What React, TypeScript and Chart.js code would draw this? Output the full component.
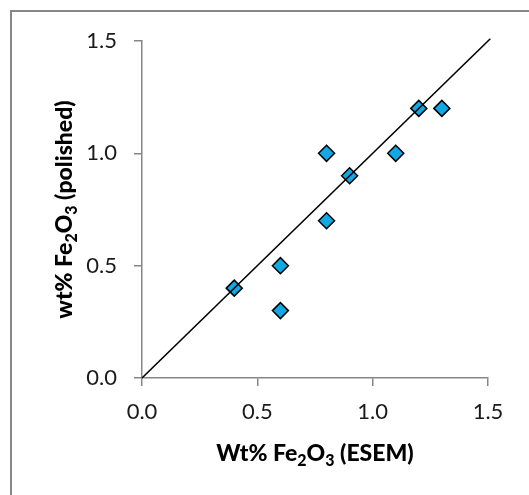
import React, { useEffect, useRef } from "react";
import { Chart, registerables } from "chart.js";

Chart.register(...registerables);

const esemValues = [0.4, 0.6, 0.6, 0.8, 0.8, 0.9, 1.1, 1.2, 1.3];
const polishedValues = [0.4, 0.5, 0.3, 1.0, 0.7, 0.9, 1.0, 1.2, 1.2];
const lineX = [0, 1.51];
const lineY = [0, 1.51];
const tickValues = [0, 0.5, 1.0, 1.5];

const xTitleParts = [
  { t: "Wt% Fe", sub: false },
  { t: "2", sub: true },
  { t: "O", sub: false },
  { t: "3", sub: true },
  { t: " (ESEM)", sub: false },
];
const yTitleParts = [
  { t: "wt% Fe", sub: false },
  { t: "2", sub: true },
  { t: "O", sub: false },
  { t: "3", sub: true },
  { t: " (polished)", sub: false },
];

const FONT = "Lato, 'Open Sans', sans-serif";
const TITLE_SIZE = 23;
const SUB_SIZE = 16;
const SUB_OFFSET = 5;

function drawParts(ctx: CanvasRenderingContext2D, parts: { t: string; sub: boolean }[]) {
  const main = `900 ${TITLE_SIZE}px ${FONT}`;
  const sub = `900 ${SUB_SIZE}px ${FONT}`;
  let total = 0;
  const widths = parts.map((p) => {
    ctx.font = p.sub ? sub : main;
    const w = ctx.measureText(p.t).width;
    total += w;
    return w;
  });
  let x = -total / 2;
  ctx.textAlign = "left";
  ctx.textBaseline = "alphabetic";
  ctx.fillStyle = "#000";
  parts.forEach((p, i) => {
    ctx.font = p.sub ? sub : main;
    ctx.fillText(p.t, x, p.sub ? SUB_OFFSET : 0);
    x += widths[i];
  });
}

const decorPlugin = {
  id: "decor",
  beforeDraw(chart: any) {
    const ctx = chart.ctx as CanvasRenderingContext2D;
    ctx.save();
    ctx.fillStyle = "#fff";
    ctx.fillRect(0, 0, chart.width, chart.height);
    ctx.strokeStyle = "#878787";
    ctx.lineWidth = 2;
    ctx.strokeRect(11, 11, 1000, 1000);
    ctx.restore();
  },
  afterDraw(chart: any) {
    const ctx = chart.ctx as CanvasRenderingContext2D;
    const a = chart.chartArea;
    ctx.save();
    ctx.translate((a.left + a.right) / 2, 461);
    drawParts(ctx, xTitleParts);
    ctx.restore();
    ctx.save();
    ctx.translate(72, (a.top + a.bottom) / 2);
    ctx.rotate(-Math.PI / 2);
    drawParts(ctx, yTitleParts);
    ctx.restore();
  },
};

function zeroPad(scale: any) {
  scale.paddingTop = 0;
  scale.paddingBottom = 0;
  scale.paddingLeft = 0;
  scale.paddingRight = 0;
}

export default function App() {
  const ref = useRef<HTMLCanvasElement>(null);
  useEffect(() => {
    if (!ref.current) return;
    const axisColor = "#868686";
    const tickFont = { family: FONT, size: 22 };
    const chart = new Chart(ref.current, {
      type: "scatter",
      data: {
        datasets: [
          {
            type: "line",
            data: lineX.map((x, i) => ({ x, y: lineY[i] })),
            borderColor: "#000",
            borderWidth: 1.6,
            pointRadius: 0,
            fill: false,
            clip: false as any,
          },
          {
            type: "scatter",
            data: esemValues.map((x, i) => ({ x, y: polishedValues[i] })),
            pointStyle: "rectRot",
            pointRadius: 8,
            pointHoverRadius: 8,
            backgroundColor: "#12A8E4",
            borderColor: "#000",
            borderWidth: 1.5,
          },
        ] as any,
      },
      options: {
        responsive: false,
        animation: false,
        devicePixelRatio: 1,
        events: [],
        layout: { padding: { left: 0, top: 41, right: 41, bottom: 0 } },
        plugins: { legend: { display: false }, tooltip: { enabled: false } },
        scales: {
          x: {
            type: "linear",
            min: 0,
            max: 1.5,
            afterBuildTicks: (s: any) => {
              s.ticks = tickValues.map((v) => ({ value: v }));
            },
            afterFit: (s: any) => {
              s.height = 117;
              zeroPad(s);
            },
            ticks: {
              font: tickFont,
              color: "#1a1a1a",
              padding: 13,
              callback: (v: any) => Number(v).toFixed(1),
            },
            grid: { drawOnChartArea: false, drawTicks: true, tickLength: 8, color: axisColor, lineWidth: 1.5 },
            border: { color: axisColor, width: 1.5 },
          },
          y: {
            type: "linear",
            min: 0,
            max: 1.5,
            afterBuildTicks: (s: any) => {
              s.ticks = tickValues.map((v) => ({ value: v }));
            },
            afterFit: (s: any) => {
              s.width = 142;
              zeroPad(s);
            },
            ticks: {
              font: tickFont,
              color: "#1a1a1a",
              padding: 17,
              callback: (v: any) => Number(v).toFixed(1),
            },
            grid: { drawOnChartArea: false, drawTicks: true, tickLength: 8, color: axisColor, lineWidth: 1.5 },
            border: { color: axisColor, width: 1.5 },
          },
        },
      },
      plugins: [decorPlugin],
    });
    return () => chart.destroy();
  }, []);
  return (
    <div style={{ position: "absolute", left: 0, top: 0, width: 529, height: 495 }}>
      <canvas ref={ref} width={529} height={495} style={{ width: 529, height: 495, display: "block" }} />
    </div>
  );
}
